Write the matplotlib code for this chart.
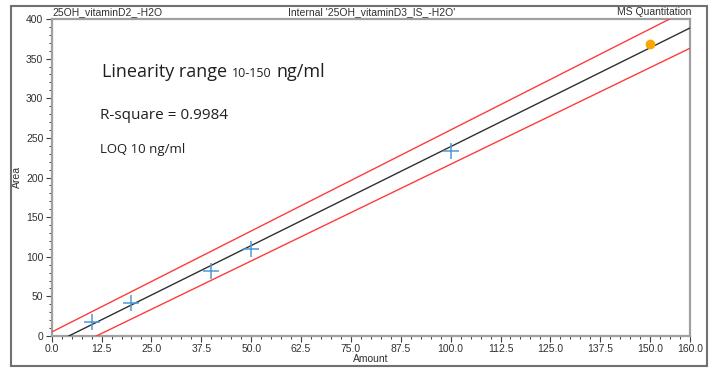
import matplotlib
matplotlib.use("Agg")
import matplotlib.pyplot as plt
import numpy as np
from matplotlib.patches import Rectangle
from matplotlib.ticker import MultipleLocator, FixedLocator

# ---- data ----
amount = [10, 20, 40, 50, 100]
area = [17.5, 41.5, 82, 110, 233]
excl_amount = [150]
excl_area = [368]
fit_slope = 2.496
fit_intercept = -10.7
upper_slope = 2.55
upper_intercept = 5.0
lower_slope = 2.44
lower_intercept = -27.3
xticks = [0, 12.5, 25, 37.5, 50, 62.5, 75, 87.5, 100, 112.5, 125, 137.5, 150, 160]
xticklabels = ["0.0", "12.5", "25.0", "37.5", "50.0", "62.5", "75.0", "87.5",
               "100.0", "112.5", "125.0", "137.5", "150.0", "160.0"]
yticks = [0, 50, 100, 150, 200, 250, 300, 350, 400]

W, H = 716, 369
plt.rcParams['font.family'] = ['Liberation Sans', 'DejaVu Sans']
fig = plt.figure(figsize=(W / 100, H / 100), dpi=100)

def px(x0, y0, x1, y1):
    return [x0 / W, 1 - y1 / H, (x1 - x0) / W, (y1 - y0) / H]

# outer frame
fig.patches.append(Rectangle((11 / W, 1 - 366 / H), (707 - 11) / W, (366 - 6) / H,
                             transform=fig.transFigure, fill=False,
                             edgecolor="#707070", linewidth=1.5))

ax = fig.add_axes(px(51.7, 19, 690, 336))
ax.set_xlim(0, 160)
ax.set_ylim(0, 400)

xs = np.array([0, 160])
ax.plot(xs, fit_slope * xs + fit_intercept, color="#303030", lw=1.0, zorder=3)
ax.plot(xs, upper_slope * xs + upper_intercept, color="#ff3b3b", lw=1.0, zorder=3)
ax.plot(xs, lower_slope * xs + lower_intercept, color="#ff3b3b", lw=1.0, zorder=3)
ax.plot(amount, area, linestyle="none", marker="+", markersize=11, mew=1.1,
        color="#4f9ad8", zorder=4)
ax.plot(excl_amount, excl_area, linestyle="none", marker="o", markersize=6,
        color="#f7a900", zorder=4)

for s in ax.spines.values():
    s.set_color("#a0a0a0")
    s.set_linewidth(1.6)

ax.xaxis.set_major_locator(FixedLocator(xticks))
ax.set_xticklabels(xticklabels)
ax.xaxis.set_minor_locator(MultipleLocator(2.5))
ax.yaxis.set_major_locator(FixedLocator(yticks))
ax.yaxis.set_minor_locator(MultipleLocator(10))
ax.tick_params(which="major", length=4, width=0.8, color="#404040",
               labelsize=7.5, labelcolor="#303030", pad=2)
ax.tick_params(which="minor", length=2.5, width=0.7, color="#404040")

ax.set_xlabel("Amount", fontsize=7.5, color="#303030", labelpad=0)
ax.set_ylabel("Area", fontsize=7.5, color="#303030", labelpad=3)

# header texts
fig.text(52 / W, 1 - 12 / H, "25OH_vitaminD2_-H2O", fontsize=7.5, color="#303030", va="center", ha="left")
fig.text(372 / W, 1 - 12 / H, "Internal '25OH_vitaminD3_IS_-H2O'", fontsize=7.5, color="#303030", va="center", ha="center")
fig.text(691 / W, 1 - 12 / H, "MS Quantitation", fontsize=7.5, color="#303030", va="center", ha="right")

# annotation texts, placed by pixel baseline
fam = ["Open Sans", "DejaVu Sans"]
col = "#202020"
fig.canvas.draw()
r = fig.canvas.get_renderer()

def put(x, ybase, s, size):
    t = fig.text(x / W, 1 - ybase / H, s, fontsize=size, family=fam, color=col,
                 va="baseline", ha="left")
    bb = t.get_window_extent(renderer=r)
    return bb.x1

x = put(102, 77, "Linearity range", 13)
x = put(x + 5, 77, "10-150", 9)
put(x + 5, 77, "ng/ml", 13)
put(100, 119, "R-square = 0.9984", 11)
put(100, 153, "LOQ 10 ng/ml", 9.5)

fig.savefig("out.png", dpi=100)
